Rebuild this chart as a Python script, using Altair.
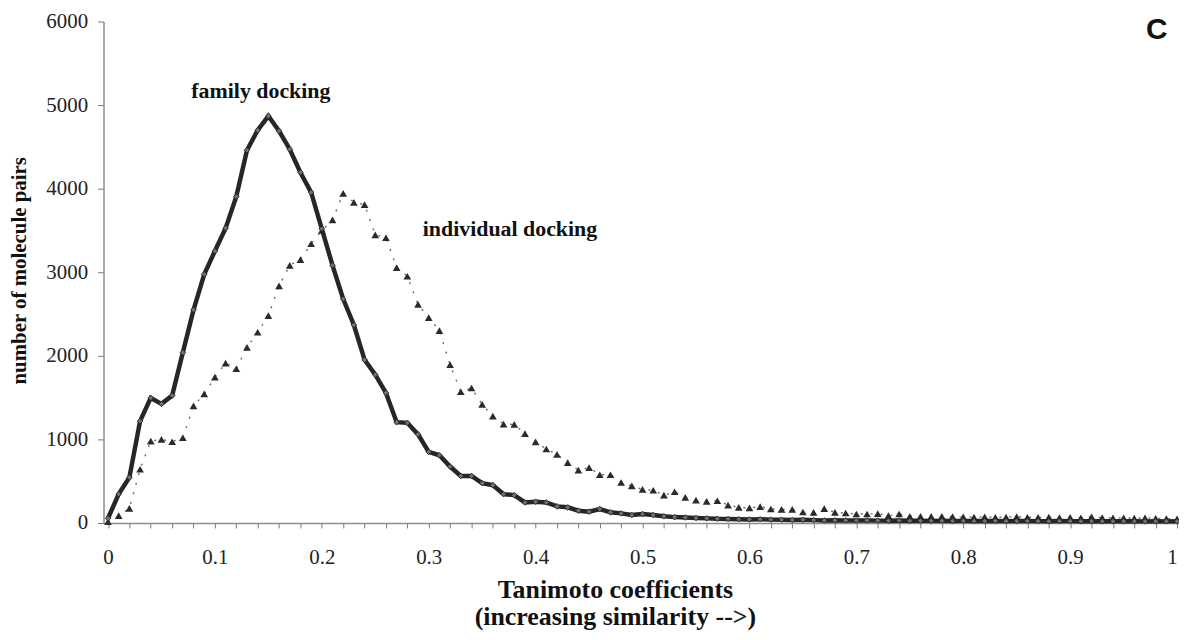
import altair as alt
import pandas as pd

# Tanimoto coefficient categories (0.00 .. 1.00, step 0.01)
tanimoto = [round(i / 100, 2) for i in range(101)]

family_docking = [
    56, 345, 544, 1218, 1496, 1425, 1524, 2040, 2550, 2976,
    3254, 3528, 3905, 4460, 4699, 4869, 4690, 4472, 4194, 3956,
    3520, 3083, 2680, 2369, 1952, 1774, 1556, 1206, 1198, 1060,
    850, 810, 675, 563, 563, 476, 452, 345, 333, 246,
    254, 246, 198, 187, 147, 135, 167, 127, 115, 95,
    107, 95, 80, 70, 65, 60, 55, 50, 48, 45,
    42, 45, 40, 38, 36, 38, 34, 30, 32, 30,
    29, 31, 28, 27, 29, 26, 27, 25, 26, 24,
    25, 24, 23, 25, 22, 23, 24, 22, 21, 23,
    22, 21, 22, 20, 21, 20, 21, 19, 20, 19, 20,
]

individual_docking = [
    15, 87, 175, 643, 980, 1000, 972, 1020, 1400, 1544,
    1745, 1913, 1845, 2100, 2282, 2480, 2837, 3083, 3151, 3341,
    3500, 3627, 3944, 3837, 3810, 3448, 3413, 3056, 2952, 2615,
    2456, 2302, 1893, 1570, 1615, 1420, 1278, 1183, 1179, 1069,
    970, 885, 821, 722, 633, 663, 577, 577, 484, 444,
    401, 391, 333, 373, 306, 274, 258, 266, 214, 187,
    180, 196, 167, 163, 163, 131, 127, 171, 127, 119,
    107, 107, 111, 87, 107, 79, 79, 79, 79, 75,
    72, 70, 74, 68, 70, 76, 68, 66, 70, 64,
    66, 62, 74, 64, 60, 62, 58, 60, 56, 52, 48,
]

series_names = ["family docking", "individual docking"]

x_tick_values = [round(i * 0.02, 2) for i in range(51)]
y_tick_values = [0, 1000, 2000, 3000, 4000, 5000, 6000]

x_title = ["Tanimoto coefficients", "(increasing  similarity -->)"]
y_title = "number of molecule pairs"

rows = []
for x, f, ind in zip(tanimoto, family_docking, individual_docking):
    rows.append({"x": x, "value": f, "series": series_names[0]})
    rows.append({"x": x, "value": ind, "series": series_names[1]})
df = pd.DataFrame(rows)

annot = pd.DataFrame({
    "x": [0.143, 0.376],
    "y": [5167, 3512],
    "label": ["family docking", "individual docking"],
})
panel = pd.DataFrame({"x": [0.981], "y": [5893], "label": ["C"]})

x_scale = alt.Scale(domain=[-0.0042, 1.0018], nice=False, zero=False)
y_scale = alt.Scale(domain=[0, 6000], nice=False)

x_axis = alt.Axis(
    values=x_tick_values,
    labelExpr="abs(datum.value*10 - round(datum.value*10)) < 0.001 ? format(datum.value, '.1~f') : ''",
    title=x_title,
    tickSize=5,
    labelPadding=19,
    labelOverlap=False,
    labelBound=False,
    labelFlush=3,
    grid=False,
    titleFont="Liberation Serif",
    titleFontWeight="bold",
    titleFontSize=26,
    titleLineHeight=27,
    titleX=514,
    titleY=54,
    titleBaseline="top",
    titleAnchor="middle",
    titleAlign="center",
)
y_axis = alt.Axis(
    values=y_tick_values,
    format="d",
    title=y_title,
    tickSize=6,
    labelPadding=10,
    labelOverlap=False,
    grid=False,
    titleFont="Liberation Serif",
    titleFontWeight="bold",
    titleFontSize=21,
    titleX=-84,
    titleY=250,
    titleAngle=-90,
    titleBaseline="middle",
    titleAlign="center",
)

def enc(chart, yfield):
    return chart.encode(
        x=alt.X("x:Q", scale=x_scale, axis=x_axis),
        y=alt.Y(yfield, scale=y_scale, axis=y_axis),
    )

base = alt.Chart(df)
fam = enc(base.transform_filter(alt.datum.series == series_names[0]), "value:Q")
ind = enc(base.transform_filter(alt.datum.series == series_names[1]), "value:Q")

ind_line = ind.mark_line(color="#6a6a6a", strokeWidth=1.4, strokeDash=[2, 8])
ind_pts = ind.mark_point(shape="triangle-up", filled=True, size=60, color="#2a2a2a", opacity=1)
fam_line = fam.mark_line(color="#262626", strokeWidth=4.5)
fam_pts = fam.mark_point(shape="diamond", filled=True, size=32, color="#707070", opacity=1,
                         stroke="#1e1e1e", strokeWidth=0.8)

annot_text = enc(alt.Chart(annot).mark_text(
    font="Liberation Serif", fontWeight="bold", fontSize=22, color="#111",
    align="center", baseline="middle",
), "y:Q").encode(text="label:N")

panel_text = enc(alt.Chart(panel).mark_text(
    font="Liberation Sans", fontWeight="bold", fontSize=30, color="#111",
    align="center", baseline="middle",
), "y:Q").encode(text="label:N")

chart = alt.layer(
    ind_line, ind_pts, fam_line, fam_pts, annot_text, panel_text
).properties(
    width=1081,
    height=504,
    padding={"left": 96, "top": 12, "right": 0, "bottom": 108},
    autosize=alt.AutoSizeParams(type="none"),
    background="white",
).configure_view(
    stroke=None,
).configure_axis(
    domainColor="#8c8c8c",
    domainWidth=1.5,
    tickColor="#777",
    labelFont="Liberation Serif",
    labelFontSize=21,
    labelColor="#222",
    titleColor="#111",
    labelOverlap=False,
)

chart.save("out.html", embed_options={"renderer": "svg", "actions": False})
